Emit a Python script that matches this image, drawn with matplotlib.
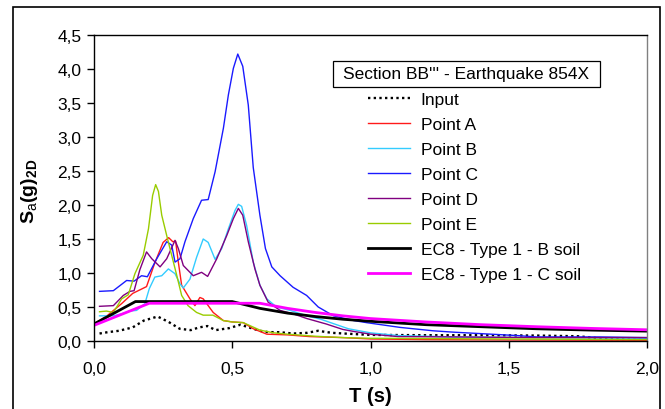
import matplotlib
matplotlib.use('Agg')
import matplotlib.pyplot as plt
from matplotlib.patches import Rectangle
from matplotlib.ticker import FuncFormatter, MultipleLocator

plt.rcParams['font.family'] = ['Liberation Sans', 'DejaVu Sans']
plt.rcParams['mathtext.fontset'] = 'custom'
plt.rcParams['mathtext.rm'] = 'Liberation Sans'
plt.rcParams['mathtext.bf'] = 'Liberation Sans:bold'

# spectra (T in s, Sa in g)
t_input = [0.02, 0.05, 0.09, 0.14, 0.18, 0.23, 0.27, 0.31, 0.35, 0.38, 0.41, 0.44, 0.49,
           0.53, 0.56, 0.60, 0.63, 0.67, 0.72, 0.77, 0.81, 0.86, 0.95, 1.0, 1.2, 1.4,
           1.6, 1.75, 1.85, 1.9, 2.0]
sa_input = [0.11, 0.13, 0.15, 0.20, 0.30, 0.36, 0.28, 0.18, 0.16, 0.20, 0.22, 0.16, 0.19,
            0.24, 0.20, 0.15, 0.13, 0.13, 0.11, 0.12, 0.15, 0.12, 0.10, 0.09, 0.085, 0.085,
            0.08, 0.07, 0.03, 0.025, 0.02]

t_a = [0.0, 0.05, 0.1, 0.14, 0.19, 0.22, 0.25, 0.27, 0.285, 0.295, 0.305, 0.317, 0.347,
       0.365, 0.383, 0.395, 0.431, 0.468, 0.50, 0.54, 0.576, 0.625, 0.70, 0.78, 0.90,
       1.0, 1.2, 1.5, 2.0]
sa_a = [0.25, 0.38, 0.55, 0.70, 0.80, 1.15, 1.45, 1.52, 1.46, 1.47, 1.16, 0.82, 0.62,
        0.52, 0.64, 0.62, 0.42, 0.30, 0.28, 0.27, 0.18, 0.10, 0.09, 0.065, 0.05,
        0.03, 0.02, 0.015, 0.01]

t_b = [0.02, 0.07, 0.10, 0.13, 0.154, 0.184, 0.20, 0.22, 0.245, 0.269, 0.293, 0.311,
       0.323, 0.347, 0.371, 0.395, 0.413, 0.438, 0.462, 0.486, 0.51, 0.522, 0.534,
       0.552, 0.576, 0.60, 0.625, 0.66, 0.71, 0.77, 0.82, 0.87, 0.92, 1.0, 1.1, 1.3,
       1.6, 2.0]
sa_b = [0.37, 0.37, 0.40, 0.44, 0.45, 0.55, 0.77, 0.94, 0.96, 1.06, 0.99, 0.84,
        0.78, 0.91, 1.23, 1.50, 1.45, 1.20, 1.36, 1.65, 1.92, 2.01, 1.98,
        1.70, 1.16, 0.82, 0.62, 0.50, 0.45, 0.37, 0.32, 0.25, 0.18, 0.12, 0.08, 0.06,
        0.05, 0.04]

t_c = [0.02, 0.07, 0.118, 0.145, 0.172, 0.193, 0.227, 0.263, 0.281, 0.293, 0.311,
       0.329, 0.359, 0.389, 0.413, 0.438, 0.468, 0.486, 0.504, 0.52, 0.538, 0.558,
       0.576, 0.60, 0.62, 0.643, 0.673, 0.72, 0.769, 0.811, 0.866, 0.94, 0.986, 1.107,
       1.227, 1.3, 1.53, 1.6, 1.83, 2.0]
sa_c = [0.73, 0.74, 0.89, 0.88, 0.96, 0.945, 1.21, 1.46, 1.41, 1.16, 1.21,
        1.46, 1.80, 2.07, 2.08, 2.49, 3.13, 3.62, 4.01, 4.22, 4.04, 3.47,
        2.55, 1.85, 1.36, 1.09, 0.96, 0.79, 0.67, 0.50, 0.37, 0.30, 0.27, 0.20,
        0.15, 0.13, 0.08, 0.06, 0.06, 0.05]

t_d = [0.02, 0.07, 0.106, 0.13, 0.145, 0.166, 0.19, 0.209, 0.239, 0.263, 0.293, 0.305,
       0.323, 0.359, 0.389, 0.411, 0.444, 0.48, 0.504, 0.522, 0.538, 0.558, 0.582,
       0.60, 0.63, 0.673, 0.72, 0.77, 0.84, 0.90, 0.94, 1.0, 1.1, 1.3, 1.6, 2.0]
sa_d = [0.51, 0.52, 0.67, 0.73, 0.74, 1.05, 1.31, 1.21, 1.09, 1.21, 1.48, 1.36,
        1.11, 0.96, 1.01, 0.95, 1.21, 1.55, 1.80, 1.95, 1.85, 1.46, 1.06,
        0.82, 0.57, 0.45, 0.40, 0.33, 0.25, 0.17, 0.14, 0.10, 0.065, 0.06, 0.05, 0.05]

t_e = [0.02, 0.045, 0.07, 0.10, 0.124, 0.148, 0.178, 0.197, 0.212, 0.223, 0.233, 0.245,
       0.263, 0.281, 0.299, 0.317, 0.34, 0.371, 0.395, 0.43, 0.468, 0.50, 0.54, 0.60,
       0.65, 0.70, 0.80, 0.90, 1.0, 1.5, 2.0]
sa_e = [0.43, 0.44, 0.42, 0.62, 0.68, 0.99, 1.26, 1.65, 2.14, 2.30, 2.20, 1.85,
        1.55, 1.26, 0.97, 0.67, 0.52, 0.42, 0.38, 0.38, 0.30, 0.28, 0.27, 0.16,
        0.12, 0.10, 0.07, 0.05, 0.04, 0.03, 0.02]

t_ec8b = [0.0, 0.15, 0.5, 0.6, 0.7, 0.8, 0.9, 1.0, 1.2, 1.4, 1.6, 1.8, 2.0]
sa_ec8b = [0.25, 0.58, 0.58, 0.48, 0.41, 0.36, 0.32, 0.29, 0.24, 0.21, 0.18, 0.16, 0.145]

t_ec8c = [0.0, 0.2, 0.6, 0.7, 0.8, 0.9, 1.0, 1.2, 1.4, 1.6, 1.8, 2.0]
sa_ec8c = [0.23, 0.555, 0.555, 0.48, 0.42, 0.37, 0.33, 0.28, 0.24, 0.21, 0.185, 0.165]

W, H = 665, 410
fig = plt.figure(figsize=(W / 100, H / 100), dpi=100)
ax = fig.add_axes([94 / W, 1 - 342 / H, 553 / W, 306 / H])

# outer frame around the whole chart
fig.patches.append(Rectangle((13 / W, -0.05), 647 / W, 1.05 - 8 / H,
                             transform=fig.transFigure, fill=False,
                             edgecolor='black', lw=1.2))

ax.plot(t_input, sa_input, color='black', lw=1.7, ls=(0, (1, 1.4)), label='Input')
ax.plot(t_a, sa_a, color='#ff1a1a', lw=1.0, label='Point A')
ax.plot(t_b, sa_b, color='#33ccff', lw=1.0, label='Point B')
ax.plot(t_c, sa_c, color='#1a1aff', lw=1.0, label='Point C')
ax.plot(t_d, sa_d, color='#800080', lw=1.0, label='Point D')
ax.plot(t_e, sa_e, color='#99cc00', lw=1.0, label='Point E')
ax.plot(t_ec8b, sa_ec8b, color='black', lw=2.0, label='EC8 - Type 1 - B soil')
ax.plot(t_ec8c, sa_ec8c, color='#ff00ff', lw=2.0, label='EC8 - Type 1 - C soil')

ax.set_xlim(0, 2.0)
ax.set_ylim(0, 4.5)
ax.xaxis.set_major_locator(MultipleLocator(0.5))
ax.yaxis.set_major_locator(MultipleLocator(0.5))
comma = FuncFormatter(lambda v, p: f'{v:.1f}'.replace('.', ','))
ax.xaxis.set_major_formatter(comma)
ax.yaxis.set_major_formatter(comma)
ax.tick_params(direction='out', length=5, width=1, labelsize=12.5, pad=4)
ax.tick_params(axis='x', pad=9.5)
ax.spines['right'].set_color('#808080')
for s in ax.spines.values():
    s.set_linewidth(1.0)

ax.set_xlabel('T (s)', fontsize=14.5, fontweight='bold', labelpad=7)
fig.text(29 / W, 1 - 191 / H, r'$\mathbf{S}_{\mathrm{a}}\mathbf{(g)}_{\mathbf{2D}}$',
         rotation=90, fontsize=14, ha='center', va='center')

# boxed title above the legend
fig.patches.append(Rectangle((333 / W, 1 - 88 / H), 267 / W, 26 / H,
                             transform=fig.transFigure, facecolor='white',
                             edgecolor='black', lw=0.9))
fig.text(466.5 / W, 1 - 75 / H, "Section BB''' - Earthquake 854X",
         fontsize=12.5, ha='center', va='center')

ax.legend(loc='upper left', bbox_to_anchor=(361 / W, 1 - 86 / H),
          bbox_transform=fig.transFigure, frameon=False, fontsize=12.5,
          handlelength=2.4, handletextpad=0.63, labelspacing=0.565, borderaxespad=0)

fig.savefig('out.png', dpi=100)
